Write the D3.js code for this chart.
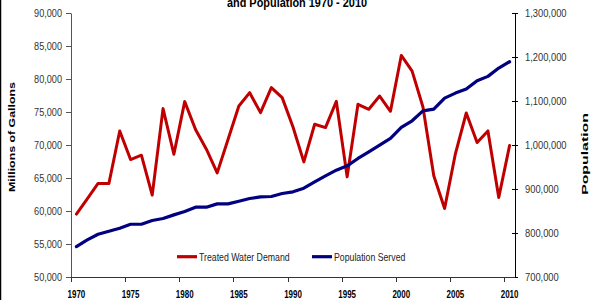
<!DOCTYPE html>
<html>
<head>
<meta charset="utf-8">
<script src="https://cdn.jsdelivr.net/npm/d3@7"></script>
<style>
  html, body { margin: 0; padding: 0; background: #fff; }
  svg { display: block; font-family: Arial, "Liberation Sans", sans-serif; }
</style>
</head>
<body>
<svg id="chart" width="591" height="300"></svg>
<script>
// ---- data ----
const years = [1970,1971,1972,1973,1974,1975,1976,1977,1978,1979,
               1980,1981,1982,1983,1984,1985,1986,1987,1988,1989,
               1990,1991,1992,1993,1994,1995,1996,1997,1998,1999,
               2000,2001,2002,2003,2004,2005,2006,2007,2008,2009,2010];
const demand = [59533,61850,64170,64170,72130,67800,68450,62400,75510,68600,
                76570,72340,69360,65780,70830,75910,77930,74910,78690,77180,
                72730,67440,73140,72640,76620,65170,76170,75410,77420,75110,
                83570,81200,75760,65330,60390,68710,74850,70370,72130,62060,69920];
const population = [769200,784300,797200,804000,810900,819900,819900,828400,832900,841200,
                    848800,858600,858600,866200,866200,872300,878400,882100,883000,889800,
                    893500,901900,916200,930000,942800,952600,969400,984500,999700,1014900,
                    1040000,1055000,1077700,1081600,1106600,1118000,1127100,1146000,1156000,1174900,1189200];
const leftTicks = [50000,55000,60000,65000,70000,75000,80000,85000,90000];
const rightTicks = [700000,800000,900000,1000000,1100000,1200000,1300000];
const xLabelYears = [1970,1975,1980,1985,1990,1995,2000,2005,2010];
const seriesNames = ["Treated Water Demand", "Population Served"];
const titleText = "and Population 1970 - 2010";
const leftTitle = "Millions of Gallons";
const rightTitle = "Population";

// ---- layout ----
const L = 71, R = 515, T = 13, B = 277;
const red = "#C00000", blue = "#000080";

const svg = d3.select("#chart");

// condense text horizontally around its anchor point
function condense(sel, k) {
  sel.each(function() {
    const t = d3.select(this);
    const x = +t.attr("x") || 0, y = +t.attr("y") || 0;
    t.attr("x", 0).attr("y", 0)
     .attr("transform", `translate(${x},${y}) scale(${k},1)`);
  });
}

// left border line
svg.append("line").attr("x1", 0.5).attr("x2", 0.5).attr("y1", 0).attr("y2", 300)
   .attr("stroke", "#000").attr("stroke-width", 1.5);

const x = d3.scaleBand().domain(years).range([L, R]).paddingInner(0).paddingOuter(0);
const yL = d3.scaleLinear().domain([50000, 90000]).range([B, T]);
const yR = d3.scaleLinear().domain([700000, 1300000]).range([B, T]);
const cx = d => x(d) + x.bandwidth() / 2;

// left axis
const gL = svg.append("g").attr("transform", `translate(${L},0)`)
  .call(d3.axisLeft(yL).tickValues(leftTicks).tickFormat(d3.format(",")).tickSize(5).tickSizeOuter(0).tickPadding(4));
gL.select(".domain").attr("stroke", "#555");
gL.selectAll(".tick line").attr("stroke", "#555");
gL.selectAll("text").attr("font-size", 11).attr("fill", "#333").attr("font-family", "Arial, 'Liberation Sans', sans-serif");
condense(gL.selectAll("text"), 0.83);

// right axis
const gR = svg.append("g").attr("transform", `translate(${R},0)`)
  .call(d3.axisRight(yR).tickValues(rightTicks).tickFormat(d3.format(",")).tickSize(3).tickSizeOuter(0).tickPadding(7));
gR.select(".domain").attr("stroke", "#000");
gR.selectAll(".tick line").attr("x1", -3).attr("x2", 3).attr("stroke", "#000");
gR.selectAll("text").attr("font-size", 11).attr("fill", "#333").attr("font-family", "Arial, 'Liberation Sans', sans-serif");
condense(gR.selectAll("text"), 0.85);

// bottom axis
const gB = svg.append("g");
gB.append("line").attr("x1", L).attr("x2", R).attr("y1", B + 0.5).attr("y2", B + 0.5)
  .attr("stroke", "#333");
gB.selectAll("line.tk").data(xLabelYears).join("line").attr("class", "tk")
  .attr("x1", d => Math.round(x(d)) + 0.5).attr("x2", d => Math.round(x(d)) + 0.5)
  .attr("y1", B).attr("y2", B + 5).attr("stroke", "#333");
const xl = gB.selectAll("text").data(xLabelYears).join("text")
  .attr("x", d => cx(d)).attr("y", B + 20.8)
  .attr("text-anchor", "middle").attr("font-size", 10.5).attr("font-weight", "bold")
  .attr("fill", "#000").text(d => d);
condense(xl, 0.76);

// lines
const lineL = d3.line().x((d, i) => cx(years[i])).y(d => yL(d));
const lineR = d3.line().x((d, i) => cx(years[i])).y(d => yR(d));
svg.append("path").datum(demand).attr("d", lineL)
  .attr("fill", "none").attr("stroke", red).attr("stroke-width", 3)
  .attr("stroke-linejoin", "round").attr("stroke-linecap", "round");
svg.append("path").datum(population).attr("d", lineR)
  .attr("fill", "none").attr("stroke", blue).attr("stroke-width", 3.2)
  .attr("stroke-linejoin", "round").attr("stroke-linecap", "round");

// legend
const legendItems = [
  { name: seriesNames[0], color: red, x0: 177 },
  { name: seriesNames[1], color: blue, x0: 312 }
];
const lg = svg.append("g");
legendItems.forEach(it => {
  lg.append("line").attr("x1", it.x0).attr("x2", it.x0 + 20)
    .attr("y1", 256.7).attr("y2", 256.7)
    .attr("stroke", it.color).attr("stroke-width", 3.2);
  const t = lg.append("text").attr("x", it.x0 + 22).attr("y", 260.6)
    .attr("font-size", 11).attr("fill", "#222").text(it.name);
  condense(t, 0.795);
});

// title
const tt = svg.append("text").attr("x", 297).attr("y", 7.3)
  .attr("text-anchor", "middle").attr("font-size", 13).attr("font-weight", "bold")
  .attr("fill", "#000").text(titleText);
condense(tt, 0.84);

// axis titles
svg.append("text")
  .attr("transform", "translate(15,137) rotate(-90) scale(1.125,0.76)")
  .attr("text-anchor", "middle").attr("font-size", 11).attr("font-weight", "bold")
  .attr("fill", "#000").text(leftTitle);
svg.append("text")
  .attr("transform", "translate(587.5,154) rotate(-90) scale(1.44,0.75)")
  .attr("text-anchor", "middle").attr("font-size", 11).attr("font-weight", "bold")
  .attr("fill", "#000").text(rightTitle);
</script>
</body>
</html>
